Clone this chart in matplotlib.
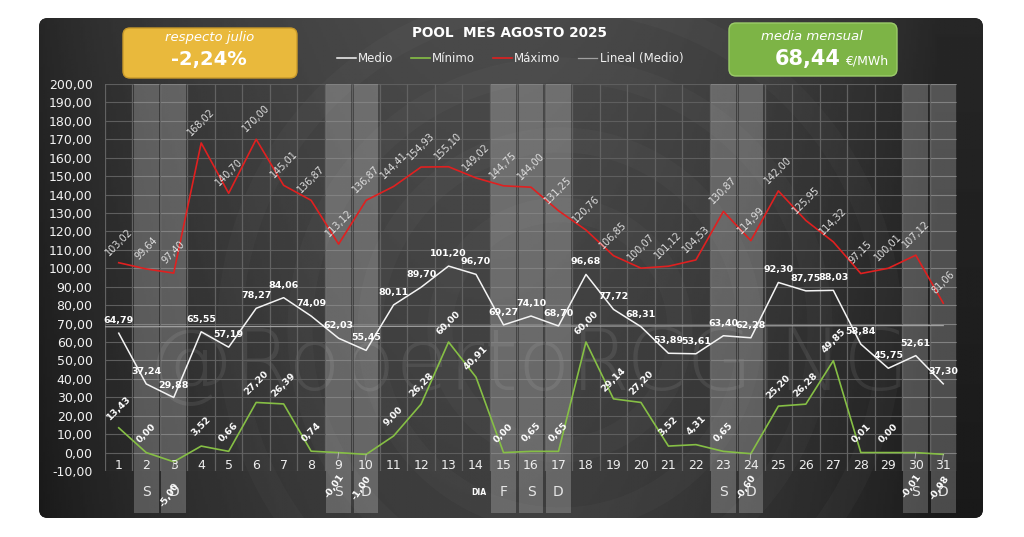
import numpy as np
import matplotlib
matplotlib.use("Agg")
import matplotlib.pyplot as plt
from matplotlib.patches import FancyBboxPatch, Circle
from matplotlib.lines import Line2D

plt.rcParams['font.family'] = ['DejaVu Sans']

# datos del mes
dias = list(range(1, 32))
medio = [64.79, 37.24, 29.88, 65.55, 57.19, 78.27, 84.06, 74.09, 62.03, 55.45,
         80.11, 89.70, 101.20, 96.70, 69.27, 74.10, 68.70, 96.68, 77.72, 68.31,
         53.89, 53.61, 63.40, 62.28, 92.30, 87.75, 88.03, 58.84, 45.75, 52.61, 37.30]
minimo = [13.43, 0.00, -5.00, 3.52, 0.66, 27.20, 26.39, 0.74, -0.01, -1.00,
          9.00, 26.28, 60.00, 40.91, 0.00, 0.65, 0.65, 60.00, 29.14, 27.20,
          3.52, 4.31, 0.65, -0.60, 25.20, 26.28, 49.85, 0.01, 0.00, -0.01, -0.98]
maximo = [103.02, 99.64, 97.40, 168.02, 140.70, 170.00, 145.01, 136.87, 113.12, 136.87,
          144.41, 154.93, 155.10, 149.02, 144.75, 144.00, 131.25, 120.76, 106.85, 100.07,
          101.12, 104.53, 130.87, 114.99, 142.00, 125.95, 114.32, 97.15, 100.01, 107.12, 81.06]
festivos = [2, 3, 9, 10, 15, 16, 17, 23, 24, 30, 31]
festivos_txt = ['S', 'D', 'S', 'D', 'F', 'S', 'D', 'S', 'D', 'S', 'D']
yticks = list(range(-10, 201, 10))

respecto_julio = "-2,24%"
media_mensual = "68,44"


def fmt(v):
    return f"{v:.2f}".replace('.', ',')


W, H = 1024, 537
fig = plt.figure(figsize=(W / 100, H / 100), dpi=100)
fig.patch.set_facecolor('white')

# fondo oscuro con degradado
bg = fig.add_axes([0, 0, 1, 1])
bg.set_xlim(0, W)
bg.set_ylim(H, 0)
bg.axis('off')
panel = FancyBboxPatch((39, 18), 944, 500, boxstyle="round,pad=0,rounding_size=9",
                       fc='#3a3a3a', ec='none')
bg.add_patch(panel)
xx = np.linspace(0, 1, 400)
yy = np.linspace(0, 1, 200)
X, Y = np.meshgrid(xx, yy)
grad = 0.15 + 0.14 * np.sin(np.pi * np.clip(X * 1.05, 0, 1)) ** 0.8 - 0.05 * Y
img = bg.imshow(grad, extent=(39, 983, 518, 18), cmap='gray', vmin=0, vmax=1,
                aspect='auto', zorder=1)
img.set_clip_path(panel)
for r in [120, 190, 260, 330]:
    c = Circle((560, 330), r, fill=False, ec='white', lw=18, alpha=0.022, zorder=2)
    bg.add_patch(c)
    c.set_clip_path(panel)

# marca de agua
bg.text(528, 366, "@RobertoRCGING", fontsize=62, color='white', alpha=0.08,
        ha='center', va='center', fontweight='light', zorder=3)

# cajas de cabecera
gold = FancyBboxPatch((123, 28), 174, 50, boxstyle="round,pad=0,rounding_size=7",
                      fc='#e9b93c', ec='#c99a2a', lw=1, zorder=4)
bg.add_patch(gold)
bg.text(210, 37, "respecto julio", fontsize=9.5, style='italic', color='white',
        ha='center', va='center', zorder=5)
bg.text(209, 59, respecto_julio, fontsize=14, fontweight='bold', color='white',
        ha='center', va='center', zorder=5)

green = FancyBboxPatch((729, 23), 168, 53, boxstyle="round,pad=0,rounding_size=7",
                       fc='#7db446', ec='#9ccc6a', lw=1, zorder=4)
bg.add_patch(green)
bg.text(812, 37, "media mensual", fontsize=9.5, style='italic', color='white',
        ha='center', va='center', zorder=5)
bg.text(841, 59, media_mensual, fontsize=15, fontweight='bold', color='white',
        ha='right', va='center', zorder=5)
bg.text(845, 61, "€/MWh", fontsize=9, color='white', ha='left', va='center', zorder=5)

bg.text(510, 33, "POOL  MES AGOSTO 2025", fontsize=9.8, fontweight='bold',
        color='white', ha='center', va='center', zorder=5)

# area de grafico
ax = fig.add_axes([105 / W, 66 / H, 852 / W, 387 / H])
ax.set_facecolor('none')
ax.set_xlim(0.5, 31.5)
ax.set_ylim(-10, 200)
for s in ax.spines.values():
    s.set_visible(False)
ax.set_xticks([])
ax.set_yticks(yticks)
ax.set_yticklabels([fmt(v) for v in yticks], color='#f2f2f2', fontsize=9)
ax.tick_params(axis='y', length=0, pad=9)

for v in yticks:
    ax.axhline(v, color='#5e5e5e', lw=0.8, zorder=1)
for d in range(0, 32):
    ax.axvline(d + 0.5, color='#626262', lw=0.9, zorder=1)

# bandas fin de semana / festivos
ax.bar(festivos, [200 + 32.8] * len(festivos), bottom=-32.8, width=0.9,
       color='white', alpha=0.22, zorder=2, clip_on=False)
for d, t in zip(festivos, festivos_txt):
    ax.text(d, -21.5, t, fontsize=10, color='#e6e6e6', ha='center', va='center')
for d in dias:
    ax.text(d, -6.8, str(d), fontsize=9, color='#eeeeee', ha='center', va='center', zorder=6)
ax.text(14.1, -21.5, "DIA", fontsize=5.5, fontweight='bold', color='white',
        ha='center', va='center')

# lineas
ax.plot(dias, medio, color='#f4f4f4', lw=1.1, zorder=5, label='Medio')
ax.plot(dias, minimo, color='#86bf45', lw=1.2, zorder=5, label='Mínimo')
ax.plot(dias, maximo, color='#e02020', lw=1.2, zorder=5, label='Máximo')
coef = np.polyfit(dias, medio, 1)
xt = np.array([0.5, 31.0])
ax.plot(xt, np.polyval(coef, xt), color='#a0a0a0', lw=0.9, zorder=4, label='Lineal (Medio)')

# etiquetas
for d, v in zip(dias, maximo):
    ax.annotate(fmt(v), (d, v), xytext=(0, 15), textcoords='offset points',
                rotation=45, fontsize=7, color='#dedede', ha='center', va='center', zorder=6)
for d, v in zip(dias, medio):
    ax.annotate(fmt(v), (d, v), xytext=(0, 9), textcoords='offset points',
                fontsize=6.8, fontweight='bold', color='white', ha='center', va='center', zorder=6)
for d, v in zip(dias, minimo):
    if v < 0:
        ax.annotate(fmt(v), (d, v), xytext=(-3, -24), textcoords='offset points',
                    rotation=55, fontsize=6.8, fontweight='bold', color='white',
                    ha='center', va='center', zorder=6, annotation_clip=False,
                    arrowprops=dict(arrowstyle='-', color='#bbbbbb', lw=0.6, shrinkA=8, shrinkB=0))
    else:
        ax.annotate(fmt(v), (d, v), xytext=(0, 14), textcoords='offset points',
                    rotation=45, fontsize=6.8, fontweight='bold', color='white',
                    ha='center', va='center', zorder=6)

# leyenda
handles = [Line2D([], [], color='#f4f4f4', lw=1.1),
           Line2D([], [], color='#86bf45', lw=1.2),
           Line2D([], [], color='#e02020', lw=1.2),
           Line2D([], [], color='#a0a0a0', lw=0.9)]
leg = fig.legend(handles, ['Medio', 'Mínimo', 'Máximo', 'Lineal (Medio)'], ncol=4,
                 loc='center', bbox_to_anchor=(510 / W, 1 - 59 / H), frameon=False,
                 fontsize=8.5, handlelength=1.6, handletextpad=0.2, columnspacing=1.5)
for t in leg.get_texts():
    t.set_color('#f0f0f0')

fig.savefig('out.png', dpi=100, facecolor=fig.get_facecolor())
